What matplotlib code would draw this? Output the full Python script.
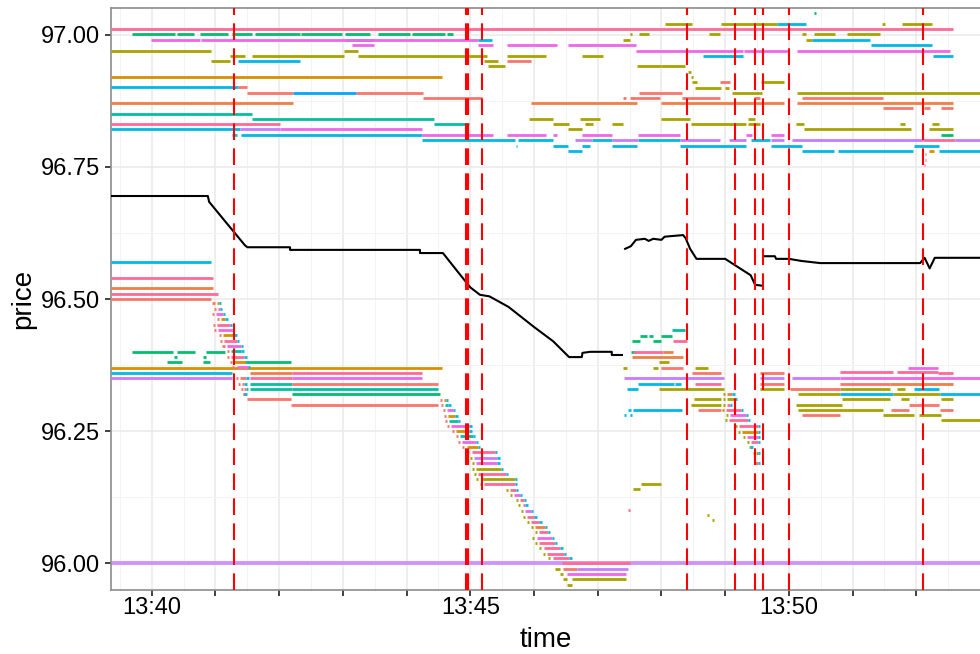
import numpy as np
import matplotlib.pyplot as plt
from matplotlib.ticker import FixedLocator, MultipleLocator, FuncFormatter

plt.rcParams['font.family'] = ['Liberation Sans', 'DejaVu Sans']
plt.rcParams['lines.scale_dashes'] = False

# all times are minutes after 13:40
red_events = [1.29, 4.93, 4.96, 5.18, 8.40, 9.15, 9.47, 9.59, 10.00, 12.10]

mid_t = [-0.64, 0.88, 0.90, 1.20, 1.46, 1.50, 2.17, 2.17, 4.21, 4.21, 4.57, 4.80, 5.00, 5.15,
         5.30, 5.60, 6.00, 6.30, 6.55, 6.75, 6.76, 6.88, 7.22, 7.22, 7.38, np.nan,
         7.43, 7.52, 7.60, 7.74, 7.80, 7.87, 8.00, 8.05, 8.34, 8.38, 8.45, 8.55, 9.00, 9.40,
         9.47, 9.59, np.nan, 9.60, 9.78, 9.80, 10.00, 10.20, 10.49, 12.06, 12.13, 12.21,
         12.29, 13.0]
mid_p = [96.695, 96.695, 96.684, 96.640, 96.602, 96.598, 96.598, 96.593, 96.593, 96.587,
         96.587, 96.552, 96.522, 96.508, 96.505, 96.485, 96.447, 96.420, 96.390, 96.390,
         96.398, 96.400, 96.400, 96.394, 96.394, np.nan,
         96.595, 96.600, 96.612, 96.614, 96.610, 96.614, 96.612, 96.618, 96.621, 96.615,
         96.595, 96.576, 96.576, 96.545, 96.527, 96.525, np.nan, 96.581, 96.581, 96.576,
         96.576, 96.572, 96.568, 96.568, 96.578, 96.558, 96.578, 96.578]

# resting orders: (start, end, price)
pink = [(-0.64, 12.58, 97.011), (-0.64, 2.01, 96.831), (-0.64, 0.96, 96.540),
        (-0.64, 1.04, 96.510), (1.54, 2.20, 96.350), (2.20, 4.24, 96.360),
        (12.10, 12.60, 96.801), (10.80, 11.63, 96.362), (11.70, 12.34, 96.362),
        (12.34, 12.58, 96.360), (8.53, 8.93, 96.340), (8.18, 8.40, 96.420),
        (7.55, 8.02, 96.400), (12.14, 12.16, 96.774), (12.13, 12.15, 96.764),
        (12.12, 12.14, 96.753), (7.48, 7.50, 96.100), (6.44, 7.50, 96.000)]
magenta = [(-0.02, 0.75, 96.990), (0.77, 5.12, 96.990), (3.14, 3.49, 96.981),
           (5.12, 5.35, 96.981), (5.57, 6.36, 96.981), (6.53, 7.60, 96.981),
           (7.60, 9.28, 96.970), (9.30, 9.98, 96.970), (10.13, 12.53, 96.970),
           (2.01, 4.24, 96.821), (4.24, 5.35, 96.811), (5.57, 6.19, 96.811),
           (6.30, 6.36, 96.811), (6.75, 7.22, 96.811), (7.63, 8.29, 96.811),
           (9.33, 9.42, 96.811), (9.72, 9.92, 96.811), (2.20, 4.24, 96.350),
           (10.80, 13.0, 96.350), (11.87, 12.34, 96.370), (6.51, 7.44, 95.979)]
purple = [(1.38, 2.01, 96.821), (6.64, 6.91, 96.801), (7.22, 7.63, 96.801),
          (8.29, 8.92, 96.801), (9.06, 9.33, 96.801), (9.72, 9.92, 96.801),
          (10.05, 12.10, 96.801), (12.61, 13.0, 96.801), (-0.64, 1.26, 96.350),
          (7.41, 8.98, 96.350), (9.55, 9.92, 96.350), (10.05, 10.80, 96.350),
          (6.67, 7.47, 95.989)]
cyan = [(-0.64, 1.35, 96.901), (-0.64, 1.38, 96.821), (1.26, 1.33, 96.811),
        (1.40, 4.24, 96.811), (4.24, 5.70, 96.801), (5.75, 6.30, 96.801),
        (6.91, 7.22, 96.801), (7.63, 8.29, 96.801), (9.40, 9.70, 96.801),
        (3.05, 3.49, 96.990), (5.12, 5.34, 96.990), (10.36, 11.27, 96.990),
        (11.29, 12.25, 96.981), (1.35, 2.32, 96.951), (8.65, 9.28, 96.961),
        (12.26, 12.58, 96.961), (9.81, 10.27, 97.021), (5.71, 5.74, 96.790),
        (6.30, 6.53, 96.790), (6.75, 6.88, 96.790), (7.22, 7.61, 96.790),
        (8.29, 9.33, 96.790), (9.72, 10.20, 96.790), (11.96, 12.35, 96.790),
        (6.53, 6.75, 96.780), (10.20, 10.71, 96.780), (10.77, 11.95, 96.780),
        (12.36, 13.0, 96.780), (-0.64, 0.93, 96.570), (-0.64, 1.26, 96.360),
        (7.63, 8.19, 96.340), (8.22, 8.30, 96.340), (7.46, 7.63, 96.330),
        (11.96, 12.35, 96.330), (10.80, 11.63, 96.320), (12.37, 13.0, 96.320),
        (7.47, 7.52, 96.290), (7.55, 8.32, 96.290), (7.41, 7.44, 96.280),
        (7.50, 7.53, 96.280)]
blue = [(2.21, 3.20, 96.891)]
salmon = [(1.35, 1.49, 96.901), (1.49, 2.21, 96.891), (3.20, 4.25, 96.891),
          (4.25, 5.18, 96.881), (5.57, 5.95, 96.951), (7.65, 8.32, 96.891),
          (7.40, 7.44, 96.881), (7.50, 7.98, 96.881), (8.32, 8.92, 96.881),
          (9.45, 9.55, 96.881), (10.20, 11.48, 96.881), (11.48, 11.95, 96.861),
          (12.12, 12.22, 96.861), (12.39, 12.58, 96.861), (8.92, 9.08, 96.910),
          (-0.64, 0.93, 96.500), (8.48, 8.93, 96.360), (9.55, 9.92, 96.360),
          (9.55, 9.92, 96.340), (10.80, 11.59, 96.340), (10.02, 10.80, 96.330),
          (11.88, 12.35, 96.300), (8.57, 8.93, 96.290), (11.61, 11.88, 96.290),
          (12.37, 12.58, 96.290), (10.20, 10.80, 96.280), (1.49, 2.18, 96.310),
          (2.18, 4.49, 96.300), (2.20, 4.49, 96.340), (8.00, 8.34, 96.370),
          (6.45, 6.67, 95.989)]
coral = [(-0.64, 2.21, 96.871), (5.95, 7.62, 96.871), (7.99, 9.92, 96.871),
         (10.13, 12.58, 96.871), (-0.64, 0.96, 96.520), (1.54, 2.20, 96.360),
         (11.59, 12.58, 96.340), (7.54, 8.34, 96.390), (8.02, 8.18, 96.400)]
orange = [(-0.64, 4.55, 96.920), (-0.64, 4.55, 96.370), (12.20, 12.28, 96.780)]
olive = [(-0.64, 0.93, 96.970), (1.22, 1.46, 96.961), (1.57, 3.01, 96.961),
         (3.01, 3.23, 96.970), (3.23, 5.26, 96.961), (0.93, 1.22, 96.951),
         (8.05, 8.48, 97.021), (8.93, 9.81, 97.021), (11.46, 11.51, 97.021),
         (11.78, 12.25, 97.021), (7.51, 7.54, 97.001), (7.65, 7.80, 97.001),
         (8.75, 8.92, 97.001), (10.20, 10.27, 97.001), (10.39, 10.72, 97.001),
         (10.91, 11.43, 97.001), (7.40, 7.50, 96.990), (10.27, 10.36, 96.990),
         (5.57, 6.19, 96.961), (6.75, 7.08, 96.961), (5.21, 5.43, 96.951),
         (5.28, 5.55, 96.941), (7.61, 7.99, 96.941), (7.99, 8.37, 96.941),
         (8.42, 8.47, 96.930), (8.46, 8.50, 96.920), (8.48, 8.56, 96.910),
         (8.52, 8.93, 96.900), (9.00, 9.06, 96.900), (9.56, 9.92, 96.910),
         (9.11, 9.58, 96.891), (10.13, 13.0, 96.891), (5.92, 6.30, 96.841),
         (6.72, 7.03, 96.841), (8.00, 8.45, 96.841), (9.36, 9.47, 96.841),
         (6.30, 6.55, 96.831), (6.80, 6.92, 96.831), (7.22, 7.39, 96.831),
         (8.46, 9.32, 96.831), (9.36, 9.55, 96.831), (10.11, 10.23, 96.831),
         (11.74, 11.82, 96.831), (12.25, 12.35, 96.831), (6.53, 6.75, 96.821),
         (10.23, 11.92, 96.821), (12.20, 12.58, 96.821), (7.96, 8.12, 96.380),
         (7.40, 7.46, 96.370), (7.86, 7.94, 96.370), (8.53, 8.73, 96.370),
         (7.96, 8.98, 96.330), (9.55, 9.92, 96.330), (10.80, 11.59, 96.330),
         (11.70, 11.82, 96.330), (10.14, 10.80, 96.320), (11.63, 12.37, 96.320),
         (8.51, 8.93, 96.310), (10.83, 11.59, 96.310), (11.76, 11.88, 96.310),
         (12.39, 12.58, 96.310), (8.46, 8.93, 96.300), (10.11, 10.83, 96.300),
         (10.14, 11.48, 96.290), (11.48, 11.97, 96.280), (12.04, 12.39, 96.280),
         (12.39, 13.0, 96.270), (7.68, 7.99, 96.150), (7.55, 7.67, 96.140),
         (8.71, 8.74, 96.091), (8.79, 8.82, 96.081), (6.33, 6.41, 95.989),
         (6.41, 6.45, 95.979), (6.45, 6.51, 95.969), (6.59, 7.44, 95.969),
         (6.51, 6.59, 95.959)]
green = [(-0.31, 0.36, 97.001), (0.39, 0.67, 97.001), (0.75, 1.19, 97.001),
         (1.26, 1.58, 97.001), (1.62, 2.32, 97.001), (2.35, 2.99, 97.001),
         (3.03, 3.42, 97.001), (3.55, 4.05, 97.001), (4.08, 4.60, 97.001),
         (4.63, 4.73, 97.001), (-0.31, 0.33, 96.400), (0.39, 0.68, 96.400),
         (0.85, 1.15, 96.400), (0.35, 0.39, 96.390), (0.80, 0.85, 96.390),
         (0.24, 0.47, 96.380), (0.80, 0.91, 96.380), (1.44, 2.18, 96.380),
         (2.20, 4.52, 96.320), (7.66, 7.78, 96.430), (7.80, 7.87, 96.430),
         (8.00, 8.16, 96.430), (7.54, 7.66, 96.420), (7.87, 8.00, 96.420),
         (7.52, 7.58, 96.400), (10.39, 10.42, 97.041), (12.39, 12.58, 96.811)]
teal = [(-0.64, 1.57, 96.850), (1.57, 4.43, 96.841), (4.43, 4.98, 96.831),
        (8.16, 8.37, 96.441), (1.54, 2.20, 96.340), (1.54, 2.20, 96.330),
        (2.20, 4.49, 96.330)]

# price walking down through the book
drop1_t0 = [0.95, 0.97, 0.94, 1.02, 0.96, 0.97, 1.05, 1.07, 1.11, 1.18, 1.18, 1.22, 1.26,
            1.32, 1.35, 1.40, 1.43]
drop1_t1 = [1.09, 1.11, 1.15, 1.19, 1.26, 1.29, 1.33, 1.37, 1.43, 1.44, 1.49, 1.51, 1.54,
            1.52, 1.49, 1.51, 1.49]
drop1_p = [96.492, 96.482, 96.472, 96.462, 96.451, 96.441, 96.431, 96.421, 96.411, 96.401,
           96.391, 96.381, 96.371, 96.350, 96.340, 96.330, 96.320]
drop1_mid = ['orange', 'pink', 'magenta', 'orange', 'pink', 'magenta', 'orange', 'pink',
             'magenta', 'teal', 'pink', 'orange', 'magenta', 'salmon', 'salmon', 'salmon',
             'salmon']

drop2_t0 = [4.52, 4.54, 4.57, 4.58, 4.60, 4.63, 4.71, 4.77, 4.80, 4.87, 4.95, 4.99, 5.02,
            5.02, 5.05, 5.09, 5.15, 5.56, 5.62, 5.71, 5.75, 5.79, 5.82, 5.89, 5.95, 6.01,
            5.97, 6.01, 6.08, 6.14, 6.22]
drop2_t1 = [4.65, 4.69, 4.76, 4.80, 4.84, 5.02, 5.02, 5.07, 5.12, 5.15, 5.42, 5.46, 5.46,
            5.51, 5.59, 5.73, 5.73, 5.75, 5.81, 5.87, 5.90, 5.98, 6.04, 6.12, 6.20, 6.25,
            6.31, 6.36, 6.45, 6.50, 6.59]
drop2_p = [96.309, 96.299, 96.290, 96.279, 96.269, 96.260, 96.250, 96.240, 96.230, 96.220,
           96.210, 96.199, 96.189, 96.179, 96.169, 96.159, 96.149, 96.139, 96.129, 96.119,
           96.109, 96.098, 96.088, 96.078, 96.068, 96.058, 96.048, 96.038, 96.028, 96.018,
           96.009]
drop2_mid = ['orange', 'teal', 'magenta', 'orange', 'teal', 'magenta', 'orange', 'teal',
             'magenta', 'orange', 'pink', 'purple', 'magenta', 'olive', 'pink', 'olive',
             'pink', 'pink', 'magenta', 'pink', 'pink', 'magenta', 'pink', 'pink', 'coral',
             'pink', 'magenta', 'pink', 'pink', 'pink', 'pink']

drop3_t0 = [8.96, 8.96, 8.96, 8.95, 9.01, 8.99, 9.15, 9.20, 9.28, 9.34, 9.39, 9.43, 9.47]
drop3_t1 = [9.15, 9.18, 9.11, 9.28, 9.36, 9.39, 9.55, 9.55, 9.55, 9.55, 9.43, 9.55, 9.55]
drop3_p = [96.320, 96.310, 96.300, 96.290, 96.280, 96.270, 96.259, 96.249, 96.239, 96.229,
           96.219, 96.209, 96.189]
drop3_mid = ['coral', 'olive', 'pink', 'pink', 'magenta', 'pink', 'pink', 'orange',
             'magenta', 'pink', 'olive', 'olive', 'salmon']

colours = {'salmon': '#F8766D', 'coral': '#EC8046', 'orange': '#D89000', 'olive': '#A9A200',
           'green': '#00BE6C', 'teal': '#00C0A0', 'cyan': '#00B8E5', 'blue': '#00A6FF',
           'purple': '#C77CFF', 'magenta': '#F066EA', 'pink': '#FF6A98'}
book = {'teal': teal, 'green': green, 'orange': orange, 'olive': olive, 'coral': coral,
        'salmon': salmon, 'blue': blue, 'cyan': cyan, 'purple': purple,
        'magenta': magenta, 'pink': pink}

fig = plt.figure(figsize=(9.8, 6.54), dpi=100)
ax = fig.add_axes([111 / 980, 64 / 654, 869 / 980, 582 / 654])

lw = 2.0
ax.hlines(96.0, -0.64, 13.0, colors='#C77CFF', lw=2.8, alpha=0.8, zorder=2)
for name, segs in book.items():
    t0, t1, p = zip(*segs)
    ax.hlines(p, t0, t1, colors=colours[name], lw=lw, zorder=3)

for t0s, t1s, ps, mids, left in [(drop1_t0, drop1_t1, drop1_p, drop1_mid, 'salmon'),
                                 (drop2_t0, drop2_t1, drop2_p, drop2_mid, 'salmon'),
                                 (drop3_t0, drop3_t1, drop3_p, drop3_mid, 'olive')]:
    for i, (a, b, p, m) in enumerate(zip(t0s, t1s, ps, mids)):
        lc = left
        if ps is drop2_p and i >= 10:
            lc = 'olive'
        ax.hlines(p, a, a + 0.035, colors=colours[lc], lw=lw, zorder=3)
        s = min(a + 0.07, b - 0.06)
        ax.hlines(p, s, b - 0.035, colors=colours[m], lw=lw, zorder=3)
        ax.hlines(p, b - 0.035, b, colors=colours['cyan'], lw=lw, zorder=3)

ax.plot(mid_t, mid_p, color='black', lw=1.5, zorder=4)

for t in red_events:
    ax.axvline(t, color='#FF0000', lw=1.5, dashes=(12, 6), zorder=5)

ax.set_xlim(-0.64, 13.0)
ax.set_ylim(95.949, 97.051)

ax.xaxis.set_major_locator(FixedLocator(list(range(0, 13))))
ax.xaxis.set_minor_locator(MultipleLocator(0.5))
ax.xaxis.set_major_formatter(FuncFormatter(
    lambda v, pos: '13:%02d' % (40 + round(v)) if round(v) % 5 == 0 else ''))
ax.yaxis.set_major_locator(MultipleLocator(0.25))
ax.yaxis.set_minor_locator(MultipleLocator(0.125))
ax.yaxis.set_major_formatter(FuncFormatter(lambda v, pos: '%.2f' % v))

ax.set_axisbelow(True)
ax.grid(which='major', color='#EBEBEB', lw=1.2)
ax.grid(which='minor', color='#F3F3F3', lw=0.7)
ax.tick_params(which='major', length=4, width=1.3, color='#333333', labelsize=17,
               labelcolor='black')
ax.tick_params(axis='x', which='major', pad=1)
ax.tick_params(axis='y', which='major', pad=4)
ax.tick_params(which='minor', length=0)

for side in ['top', 'left', 'bottom']:
    ax.spines[side].set_color('#8C8C8C')
    ax.spines[side].set_linewidth(1.2)
ax.spines['right'].set_visible(False)

ax.set_xlabel('time', fontsize=20, labelpad=6)
ax.set_ylabel('price', fontsize=20, labelpad=3)

fig.savefig('out.png', dpi=100)
